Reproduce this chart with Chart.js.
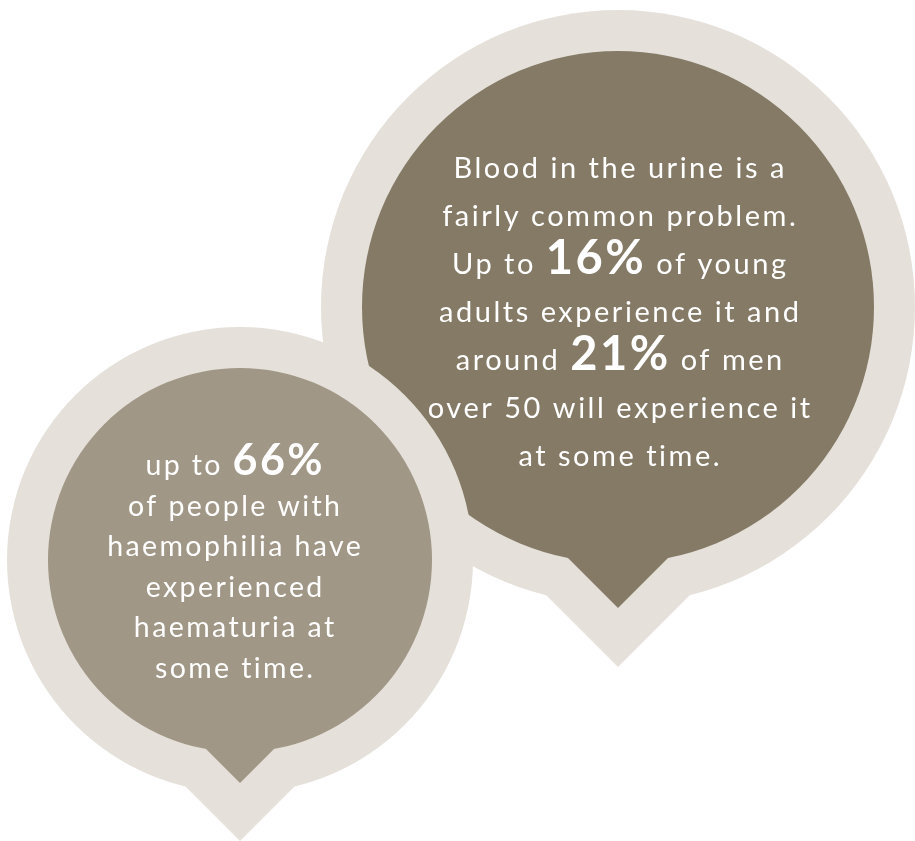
<!DOCTYPE html>
<html>
<head>
<meta charset="utf-8">
<script src="https://cdn.jsdelivr.net/npm/chart.js@4"></script>
<style>
  html, body { margin: 0; padding: 0; background: #fff; }
  #wrap { width: 915px; height: 841px; }
</style>
</head>
<body>
<div id="wrap"><canvas id="myChart"></canvas></div>
<script>
/* text of the two bubbles, {0} {1} are replaced by the big numbers */
const bigLines = [
  'Blood in the urine is a',
  'fairly common problem.',
  'Up to {0} of young',
  'adults experience it and',
  'around {1} of men',
  'over 50 will experience it',
  'at some time.'
];
const bigValues = [16, 21];

const smallLines = [
  'up to {0}',
  'of people with',
  'haemophilia have',
  'experienced',
  'haematuria at',
  'some time.'
];
const smallValues = [66];

/* colours */
const ringColor = '#e5e1da';
const bigColor = '#847a66';
const smallColor = '#a09786';

/* bubble shape = circle + diamond pointing down (the speech tail) */
function bubbleLayer(cx, cy, r, tipY, tail, color, order){
  return {
    data: [
      {x: cx, y: cy, r: r},
      {x: cx, y: tipY - tail, r: tail}
    ],
    pointStyle: ['circle', 'rectRot'],
    backgroundColor: color,
    borderWidth: 0,
    hoverRadius: 0,
    clip: false,
    order: order,
  };
}

/* draws the text lines, big numbers in bold */
const textPlugin = {
  id: 'bubbleText',
  afterDatasetsDraw: function(chart){
    const ctx = chart.ctx;
    const x = chart.scales.x;
    const y = chart.scales.y;

    /* refLine/refWidth: one line whose width we know from the picture, used to set the letter spacing */
    function drawBlock(lines, values, cx, firstBaseline, lineHeight, size, bigSize, refLine, refWidth){
      const regular = size + 'px Lato';
      const bold = 'bold ' + bigSize + 'px Lato';
      ctx.save();
      ctx.fillStyle = '#ffffff';
      ctx.textBaseline = 'alphabetic';
      ctx.textAlign = 'left';
      ctx.font = regular;
      ctx.letterSpacing = '0px';
      const spacing = Math.max(0, (refWidth - ctx.measureText(refLine).width) / refLine.length);
      ctx.letterSpacing = spacing.toFixed(2) + 'px';
      lines.forEach(function(line, i){
        const parts = line.split(/(\{\d\})/).filter(function(p){ return p !== ''; }).map(function(p){
          const m = p.match(/^\{(\d)\}$/);
          return m ? {t: values[+m[1]] + '%', font: bold} : {t: p, font: regular};
        });
        let total = 0;
        parts.forEach(function(p){
          ctx.font = p.font;
          p.w = ctx.measureText(p.t).width;
          total += p.w;
        });
        let px = x.getPixelForValue(cx) - total / 2 + spacing / 2;
        const py = y.getPixelForValue(firstBaseline + i * lineHeight);
        parts.forEach(function(p){
          ctx.font = p.font;
          ctx.fillText(p.t, px, py);
          px += p.w;
        });
      });
      ctx.restore();
    }

    drawBlock(bigLines, bigValues, 619, 178, 48, 29, 47, 'fairly common problem.', 356);
    drawBlock(smallLines, smallValues, 234, 475, 40.5, 28.5, 43, 'haemophilia have', 256);
  }
};

const ctx = document.getElementById('myChart').getContext('2d');

const chart = new Chart(ctx, {
  type: 'bubble',
  data: {
    datasets: [
      bubbleLayer(618, 307, 297, 667, 178, ringColor, 4),
      bubbleLayer(618, 307, 256, 608, 120, bigColor, 3),
      bubbleLayer(240, 560, 233, 841, 148, ringColor, 2),
      bubbleLayer(240, 560, 192, 783, 90, smallColor, 1),
    ],
  },
  options: {
    responsive: true,
    maintainAspectRatio: false,
    animation: false,
    events: [],
    layout: {padding: 0, autoPadding: false},
    plugins: {
      legend: {display: false},
      tooltip: {enabled: false},
    },
    scales: {
      x: {type: 'linear', min: 0, max: 915, display: false},
      y: {type: 'linear', min: 0, max: 841, reverse: true, display: false},
    },
  },
  plugins: [textPlugin],
});
</script>
</body>
</html>
